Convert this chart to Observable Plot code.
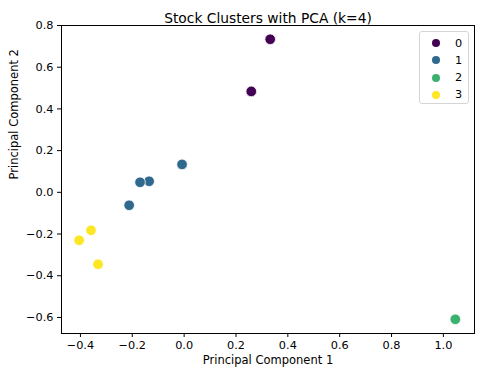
<!DOCTYPE html>
<html><head>
<meta charset="utf-8">
<script src="https://cdn.jsdelivr.net/npm/d3@7"></script>
<script src="https://cdn.jsdelivr.net/npm/@observablehq/plot@0.6"></script>
<style>
body{margin:0;background:#fff;}
#c{position:relative;width:481px;height:375px;font-family:"DejaVu Sans",sans-serif;}
#legend{position:absolute;left:419px;top:31px;width:50px;height:73px;border:1px solid #d5d5d5;border-radius:3px;background:#fff;box-sizing:border-box;}
.li{position:absolute;left:0;width:49px;height:17px;font-size:11.3px;color:#000;}
.li .dot{position:absolute;left:12px;top:4.5px;width:8px;height:8px;border-radius:50%;}
.li .lab{position:absolute;left:35px;top:1px;line-height:15px;}
</style>
</head><body><div id="c"></div>
<script>
const pc1 = [0.332, 0.259, -0.008, -0.135, -0.170, -0.212, 1.046, -0.359, -0.405, -0.332];
const pc2 = [0.734, 0.484, 0.134, 0.053, 0.048, -0.062, -0.609, -0.182, -0.230, -0.345];
const cluster = [0, 0, 1, 1, 1, 1, 2, 3, 3, 3];
const clusterLabels = [0, 1, 2, 3];
const clusterColors = ["#440154", "#31688e", "#3bb16f", "#fde725"];
const xTicks = [-0.4, -0.2, 0.0, 0.2, 0.4, 0.6, 0.8, 1.0];
const yTicks = [-0.6, -0.4, -0.2, 0.0, 0.2, 0.4, 0.6, 0.8];
const titleText = "Stock Clusters with PCA (k=4)";
const xLabel = "Principal Component 1";
const yLabel = "Principal Component 2";

const data = pc1.map((x, i) => ({x, y: pc2[i], c: cluster[i]}));
const fmt = d => d.toFixed(1).replace("-", "\u2212");

const chart = Plot.plot({
  width: 481,
  height: 375,
  marginLeft: 61,
  marginRight: 7,
  marginTop: 25,
  marginBottom: 42,
  style: {fontFamily: "DejaVu Sans, sans-serif", fontSize: "11px", color: "#000", background: "#fff"},
  x: {domain: [-0.473, 1.12], ticks: xTicks, tickFormat: fmt, tickSize: 4, label: null},
  y: {domain: [-0.677, 0.8], ticks: yTicks, tickFormat: fmt, tickSize: 4, label: null},
  color: {type: "ordinal", domain: clusterLabels, range: clusterColors},
  marks: [
    Plot.frame({stroke: "#000", strokeWidth: 1}),
    Plot.axisX({ticks: xTicks, tickFormat: fmt, tickSize: 4, tickPadding: 3, fontSize: 11.3, label: null}),
    Plot.axisY({ticks: yTicks, tickFormat: fmt, tickSize: 4, tickPadding: 4, fontSize: 11.3, label: null}),
    Plot.dot(data, {x: "x", y: "y", fill: d => d.c, r: 5.3, stroke: "#fff", strokeWidth: 0.8}),
    Plot.text([titleText], {text: d => d, frameAnchor: "top", dy: -12.5, fontSize: 13.8, fill: "#000"}),
    Plot.text([xLabel], {text: d => d, frameAnchor: "bottom", dy: 30.5, fontSize: 11.5, fill: "#000"}),
    Plot.text([yLabel], {text: d => d, frameAnchor: "left", dx: -47, rotate: -90, fontSize: 11.5, fill: "#000"})
  ]
});

const c = document.getElementById("c");
c.appendChild(chart);
const legend = document.createElement("div");
legend.id = "legend";
clusterLabels.forEach((lab, i) => {
  const row = document.createElement("div");
  row.className = "li";
  row.style.top = (2.5 + i * 17.3) + "px";
  row.innerHTML = `<span class="dot" style="background:${clusterColors[i]}"></span><span class="lab">${lab}</span>`;
  legend.appendChild(row);
});
c.appendChild(legend);
</script>
</body></html>
